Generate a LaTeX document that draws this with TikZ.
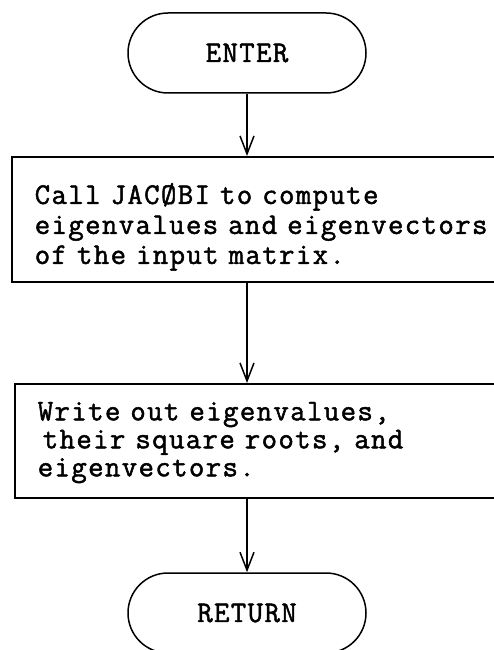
\documentclass[tikz,border=0pt]{standalone}
\usepackage{fontspec}
\newfontfamily\typer{Latin Modern Mono}[LetterSpace=4.5,BoldFont={Latin Modern Mono},BoldFeatures={FakeBold=1.6}]
\usetikzlibrary{arrows.meta,positioning}

\begin{document}
\begin{tikzpicture}[x=1pt,y=-1pt,line width=1.5pt,
  term/.style={draw,rounded corners=40pt,minimum width=238pt,minimum height=80pt,font=\fontsize{30}{28}\selectfont\typer\bfseries},
  proc/.style={draw,anchor=north west,align=left,text width=470pt,inner xsep=23pt,font=\fontsize{30}{28}\selectfont\typer\bfseries},
  flow/.style={-{Straight Barb[length=18pt,width=14pt]}}]
\useasboundingbox (0,0) rectangle (494,650);
\clip (0,0) rectangle (494,650);
\node[term] (enter) at (247,53) {ENTER};
\node[proc,minimum height=125pt,font=\fontsize{30}{30}\selectfont\typer\bfseries] (call) at (11,156)
  {\rule{0pt}{36pt}Call JACØBI to compute\\eigenvalues and eigenvectors\\of the input matrix.};
\node[proc,minimum height=114pt] (write) at (14,383)
  {\rule{0pt}{22pt}Write out eigenvalues,\\\hspace*{5pt}their square roots, and\\eigenvectors.};
\node[term] (return) at (247,613) {RETURN};
\draw[flow] (enter.south) -- (enter.south |- call.north);
\draw[flow] (enter.south |- call.south) -- (enter.south |- write.north);
\draw[flow] (enter.south |- write.south) -- (return.north);
\end{tikzpicture}
\end{document}
